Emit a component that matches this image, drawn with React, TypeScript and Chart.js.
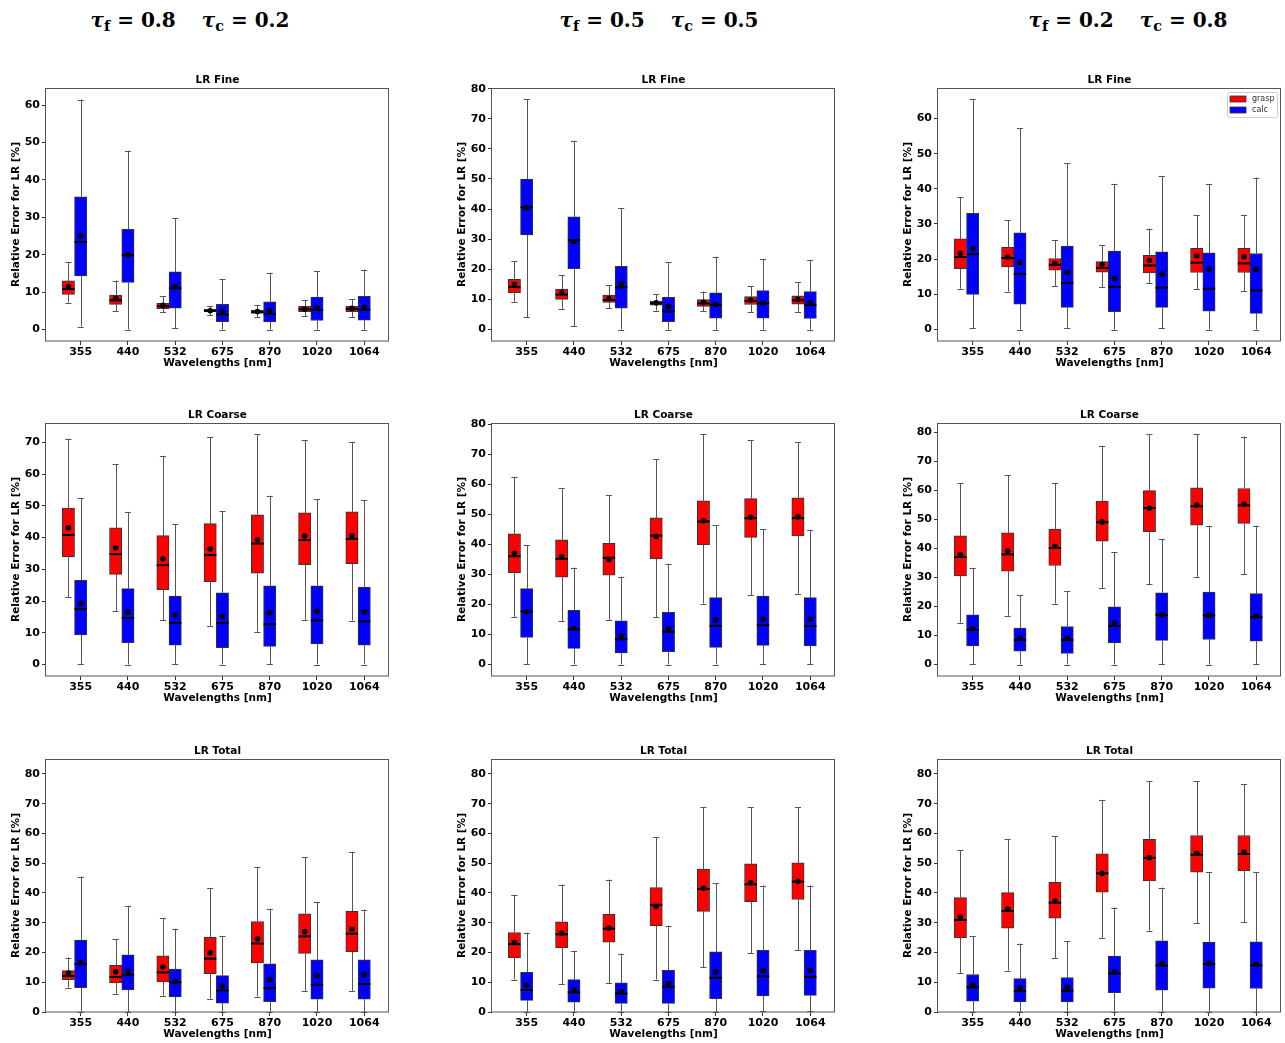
import React, { useEffect, useRef } from 'react';
import { Chart, registerables } from 'chart.js';

Chart.register(...registerables);
Chart.defaults.font.family = "'DejaVu Sans', sans-serif";
Chart.defaults.color = '#000';

// ---------- data ----------
const WAVELENGTHS = ['355', '440', '532', '675', '870', '1020', '1064'];
const SERIES_NAMES = ['grasp', 'calc'];
const SERIES_COLORS = ['#ff0000', '#0000ff'];
const ROW_TITLES = ['LR Fine', 'LR Coarse', 'LR Total'];
const TAU_F = ['0.8', '0.5', '0.2'];
const TAU_C = ['0.2', '0.5', '0.8'];
const Y_LABEL = 'Relative Error for LR [%]';
const X_LABEL = 'Wavelengths [nm]';
const TOTAL_Y_RANGE = [0, 85];

// each row: [lower whisker, q1, median, q3, upper whisker, mean], one row per wavelength
const FINE_A_GRASP = [
  [7.2, 9.4, 10.8, 13.0, 18.1, 11.5], [4.9, 6.7, 7.8, 9.2, 13.1, 8.3], [4.6, 5.6, 6.2, 7.0, 8.9, 6.5],
  [3.8, 4.7, 5.0, 5.4, 6.3, 5.0], [3.3, 4.3, 4.7, 5.2, 6.5, 4.8], [3.6, 4.8, 5.4, 6.2, 7.9, 5.5], [3.3, 4.8, 5.5, 6.2, 8.1, 5.7],
];
const FINE_A_CALC = [
  [0.8, 14.3, 23.4, 35.5, 61.5, 25.0], [0.0, 12.6, 19.9, 26.8, 47.8, 20.0], [0.3, 5.7, 11.0, 15.4, 29.8, 11.4],
  [0.0, 2.1, 4.0, 6.7, 13.4, 4.8], [0.0, 2.0, 4.2, 7.4, 15.2, 4.9], [0.0, 2.4, 5.2, 8.7, 15.6, 5.8], [0.0, 2.5, 5.3, 8.9, 16.0, 6.0],
];
const FINE_B_GRASP = [
  [9.2, 12.2, 14.1, 16.7, 22.6, 15.0], [6.7, 10.0, 11.6, 13.4, 18.1, 12.2], [7.0, 9.0, 9.8, 11.4, 14.7, 10.3],
  [6.3, 8.1, 8.7, 9.4, 11.7, 8.9], [6.0, 7.7, 8.7, 9.9, 12.6, 9.0], [5.7, 8.3, 9.5, 10.9, 14.5, 9.8], [5.7, 8.4, 9.7, 11.2, 15.7, 10.0],
];
const FINE_B_CALC = [
  [4.0, 31.4, 40.6, 50.0, 76.4, 40.4], [1.0, 20.2, 29.7, 37.4, 62.7, 29.2], [0.0, 7.1, 14.0, 21.0, 40.3, 15.3],
  [0.0, 2.6, 6.0, 10.7, 22.3, 7.6], [0.0, 3.8, 8.2, 12.2, 24.2, 8.3], [0.0, 3.8, 8.7, 12.9, 23.4, 8.8], [0.0, 3.7, 8.1, 12.6, 23.1, 8.9],
];
const FINE_C_GRASP = [
  [11.6, 17.3, 20.6, 25.8, 37.7, 21.7], [10.8, 17.8, 20.3, 23.4, 31.1, 20.6], [12.3, 16.9, 18.4, 20.2, 25.4, 18.8],
  [12.0, 16.3, 17.5, 19.3, 24.0, 18.5], [13.1, 16.1, 18.2, 21.1, 28.7, 19.6], [11.5, 16.2, 19.0, 23.1, 32.6, 20.9], [11.0, 16.2, 18.8, 23.1, 32.6, 20.7],
];
const FINE_C_CALC = [
  [0.3, 10.0, 21.4, 33.0, 65.4, 23.0], [0.0, 7.2, 15.8, 27.5, 57.3, 19.0], [0.3, 6.3, 13.2, 23.7, 47.3, 16.2],
  [0.0, 5.1, 12.1, 22.3, 41.4, 14.5], [0.3, 6.3, 11.9, 22.1, 43.6, 15.8], [0.0, 5.2, 11.6, 21.8, 41.4, 17.2], [0.0, 4.6, 11.1, 21.6, 43.2, 17.1],
];
const COARSE_A_GRASP = [
  [21.2, 33.9, 40.8, 49.3, 71.2, 43.1], [16.9, 28.4, 34.8, 43.1, 63.1, 36.8], [14.0, 23.6, 31.3, 40.6, 65.8, 33.3],
  [12.2, 26.1, 34.5, 44.4, 71.7, 36.4], [10.3, 28.8, 38.1, 47.2, 72.5, 39.3], [14.1, 31.5, 39.2, 47.8, 70.7, 40.5], [13.8, 31.8, 39.6, 48.1, 70.2, 40.6],
];
const COARSE_A_CALC = [
  [0.2, 9.3, 17.5, 26.5, 52.5, 19.2], [0.0, 6.9, 14.7, 23.9, 48.1, 16.5], [0.2, 6.1, 13.1, 21.6, 44.2, 15.7],
  [0.0, 5.3, 13.1, 22.6, 48.4, 15.1], [0.2, 5.7, 12.7, 24.8, 53.2, 16.3], [0.0, 6.5, 13.9, 24.8, 52.2, 16.8], [0.0, 6.1, 13.6, 24.4, 51.7, 16.7],
];
const COARSE_B_GRASP = [
  [15.8, 30.6, 36.1, 43.6, 62.6, 37.1], [14.4, 29.1, 35.2, 41.6, 58.9, 35.9], [14.7, 29.8, 35.6, 40.4, 56.4, 35.0],
  [15.8, 35.2, 43.0, 48.9, 68.4, 42.7], [20.3, 40.0, 47.7, 54.6, 76.7, 47.9], [23.1, 42.4, 48.8, 55.3, 74.8, 49.1], [23.6, 42.9, 48.8, 55.6, 74.1, 49.3],
];
const COARSE_B_CALC = [
  [0.2, 9.0, 17.7, 25.3, 39.8, 17.6], [0.0, 5.4, 11.7, 18.1, 32.3, 12.1], [0.0, 3.9, 8.4, 14.6, 29.3, 9.6],
  [0.0, 4.3, 10.9, 17.4, 33.6, 11.9], [0.0, 5.7, 12.9, 22.3, 46.4, 14.9], [0.2, 6.4, 13.1, 22.8, 45.2, 15.1], [0.2, 6.2, 12.8, 22.3, 44.8, 15.1],
];
const COARSE_C_GRASP = [
  [14.4, 30.5, 37.0, 44.3, 62.4, 37.9], [16.8, 32.1, 37.9, 45.3, 65.1, 39.1], [21.0, 34.1, 40.1, 46.6, 62.6, 40.7],
  [26.3, 42.5, 49.0, 56.3, 75.3, 49.1], [27.7, 45.7, 53.9, 59.9, 79.2, 53.8], [30.2, 48.0, 54.5, 60.8, 79.2, 54.9], [31.0, 48.6, 54.8, 60.6, 78.5, 55.2],
];
const COARSE_C_CALC = [
  [0.2, 6.4, 12.0, 17.1, 33.3, 12.4], [0.0, 4.6, 8.4, 12.5, 23.9, 9.0], [0.0, 3.8, 8.4, 13.1, 25.3, 9.0],
  [0.0, 7.4, 13.3, 19.9, 38.6, 14.3], [0.2, 8.3, 17.1, 24.7, 43.2, 17.1], [0.0, 8.6, 16.9, 24.9, 47.8, 17.0], [0.2, 8.0, 16.3, 24.4, 47.8, 16.7],
];
const TOTAL_A_GRASP = [
  [8.2, 10.9, 12.1, 13.9, 18.3, 13.1], [6.2, 9.8, 11.8, 15.7, 24.6, 13.5], [5.5, 10.1, 13.3, 18.9, 31.5, 15.1],
  [4.4, 12.9, 17.9, 25.1, 41.7, 19.9], [5.2, 16.5, 23.0, 30.4, 48.8, 24.6], [7.0, 19.7, 25.4, 33.0, 52.0, 27.0], [6.9, 20.3, 26.3, 33.8, 53.8, 27.8],
];
const TOTAL_A_CALC = [
  [0.0, 8.2, 16.1, 24.2, 45.5, 16.6], [0.0, 7.4, 12.5, 19.2, 35.7, 13.6], [0.0, 5.1, 10.0, 14.4, 28.0, 10.2],
  [0.0, 3.0, 7.2, 12.2, 25.6, 8.7], [0.0, 3.5, 8.0, 16.2, 34.7, 10.9], [0.0, 4.3, 9.2, 17.5, 37.0, 12.2], [0.0, 4.3, 9.4, 17.5, 34.4, 12.5],
];
const TOTAL_B_GRASP = [
  [10.9, 18.2, 22.8, 26.7, 39.2, 23.4], [9.4, 21.5, 26.1, 30.3, 42.8, 26.5], [9.6, 23.5, 28.0, 32.8, 44.5, 28.2],
  [10.9, 29.0, 36.0, 41.8, 58.7, 35.5], [15.1, 33.8, 41.3, 48.0, 68.8, 41.6], [19.7, 37.1, 42.9, 49.8, 68.8, 43.4], [20.7, 37.8, 43.8, 50.1, 68.8, 43.9],
];
const TOTAL_B_CALC = [
  [0.0, 3.9, 7.4, 13.3, 26.7, 9.0], [0.0, 3.3, 6.6, 10.9, 20.6, 7.5], [0.0, 2.9, 6.2, 9.8, 19.6, 6.9],
  [0.0, 2.9, 8.5, 14.0, 29.0, 9.6], [0.0, 4.5, 11.5, 20.2, 43.3, 13.5], [0.2, 5.4, 12.0, 20.7, 42.5, 14.0], [0.2, 5.6, 11.8, 20.7, 42.5, 14.0],
];
const TOTAL_C_GRASP = [
  [13.0, 24.9, 30.9, 38.4, 54.3, 31.9], [13.9, 28.2, 33.9, 40.1, 58.1, 34.6], [18.2, 31.5, 36.7, 43.6, 59.0, 37.3],
  [24.9, 40.3, 46.6, 53.1, 71.3, 46.6], [27.3, 44.0, 51.8, 58.0, 77.6, 51.8], [29.9, 47.0, 52.8, 59.3, 77.6, 53.3], [30.3, 47.5, 53.1, 59.3, 76.6, 53.7],
];
const TOTAL_C_CALC = [
  [0.0, 3.6, 8.3, 12.6, 25.6, 9.2], [0.0, 3.4, 7.0, 11.2, 23.0, 8.1], [0.0, 3.4, 7.1, 11.6, 23.7, 8.3],
  [0.0, 6.5, 12.9, 18.8, 35.1, 13.5], [0.0, 7.3, 15.6, 23.9, 41.8, 16.3], [0.0, 8.0, 16.1, 23.5, 47.0, 16.4], [0.0, 7.9, 15.7, 23.6, 47.0, 16.2],
];

const PANEL_SERIES = [
  [[FINE_A_GRASP, FINE_A_CALC], [FINE_B_GRASP, FINE_B_CALC], [FINE_C_GRASP, FINE_C_CALC]],
  [[COARSE_A_GRASP, COARSE_A_CALC], [COARSE_B_GRASP, COARSE_B_CALC], [COARSE_C_GRASP, COARSE_C_CALC]],
  [[TOTAL_A_GRASP, TOTAL_A_CALC], [TOTAL_B_GRASP, TOTAL_B_CALC], [TOTAL_C_GRASP, TOTAL_C_CALC]],
];

// ---------- layout / style ----------
const PLOT_LEFTS = [46, 492, 938];
const PLOT_TOPS = [88, 423, 759];
const PLOT_W = 346;
const PLOT_H = 253;
const AXIS_W = 46;
const TITLE_H = 22;
const XAXIS_H = 30;
const RIGHT_PAD = 1;
const HEADER_CENTERS = [190, 659, 1128];
const GROUP_OFFSETS = [-0.26, 0];
const X_MIN = 0.266;
const X_MAX = 7.524;
const EDGE = '#333';
const WHISKER = '#555';
const FRAME = '#555';

const boxPlugin = {
  id: 'boxplot',
  beforeDatasetsDraw(chart: any) {
    const ctx = chart.ctx;
    const ys = chart.scales.y;
    chart.data.datasets.forEach((ds: any, di: number) => {
      if (!ds.boxStats) return;
      const meta = chart.getDatasetMeta(di);
      ctx.save();
      ctx.strokeStyle = WHISKER;
      ctx.lineWidth = 1;
      meta.data.forEach((el: any, i: number) => {
        const { x, width } = el.getProps(['x', 'width'], true);
        const [lo, q1, , q3, hi] = ds.boxStats[i];
        const cx = Math.round(x) + 0.5;
        const yLo = ys.getPixelForValue(lo);
        const yQ1 = ys.getPixelForValue(q1);
        const yQ3 = ys.getPixelForValue(q3);
        const yHi = ys.getPixelForValue(hi);
        ctx.beginPath();
        ctx.moveTo(cx, yLo); ctx.lineTo(cx, yQ1);
        ctx.moveTo(cx, yQ3); ctx.lineTo(cx, yHi);
        ctx.moveTo(x - width / 4, Math.round(yLo) + 0.5); ctx.lineTo(x + width / 4, Math.round(yLo) + 0.5);
        ctx.moveTo(x - width / 4, Math.round(yHi) + 0.5); ctx.lineTo(x + width / 4, Math.round(yHi) + 0.5);
        ctx.stroke();
      });
      ctx.restore();
    });
  },
  afterDatasetDraw(chart: any, args: any) {
    const ds = chart.data.datasets[args.index];
    if (!ds.boxStats) return;
    const ctx = chart.ctx;
    const ys = chart.scales.y;
    ctx.save();
    ctx.strokeStyle = '#000';
    ctx.lineWidth = 2;
    args.meta.data.forEach((el: any, i: number) => {
      const { x, width } = el.getProps(['x', 'width'], true);
      const ym = ys.getPixelForValue(ds.boxStats[i][2]);
      ctx.beginPath();
      ctx.moveTo(x - width / 2, ym);
      ctx.lineTo(x + width / 2, ym);
      ctx.stroke();
    });
    ctx.restore();
  },
  afterDraw(chart: any, _args: any, opts: any) {
    const ctx = chart.ctx;
    const a = chart.chartArea;
    ctx.save();
    ctx.strokeStyle = FRAME;
    ctx.lineWidth = 1;
    ctx.strokeRect(Math.round(a.left) - 0.5, Math.round(a.top) + 0.5, Math.round(a.right - a.left), Math.round(a.bottom - a.top) - 0.5);
    if (opts && opts.legend) {
      const items = chart.data.datasets.filter((d: any) => d.boxStats);
      const w = 50, h = 25;
      const lx = a.right - 4 - w, ly = a.top + 4;
      ctx.fillStyle = 'rgba(255,255,255,0.8)';
      ctx.strokeStyle = '#ccc';
      ctx.beginPath();
      (ctx as any).roundRect(lx + 0.5, ly + 0.5, w, h, 2);
      ctx.fill();
      ctx.stroke();
      ctx.font = "8px 'DejaVu Sans', sans-serif";
      ctx.textBaseline = 'middle';
      items.forEach((d: any, i: number) => {
        const cy = ly + 7 + i * 11;
        ctx.fillStyle = d.backgroundColor;
        ctx.fillRect(lx + 3, cy - 3, 16, 6);
        ctx.strokeStyle = EDGE;
        ctx.lineWidth = 0.8;
        ctx.strokeRect(lx + 3, cy - 3, 16, 6);
        ctx.fillStyle = '#333';
        ctx.fillText(d.label, lx + 25, cy);
      });
    }
    ctx.restore();
  },
};

function Panel({ row, col }: { row: number; col: number }) {
  const ref = useRef<HTMLCanvasElement>(null);
  useEffect(() => {
    const canvas = ref.current;
    if (!canvas) return;
    const series = PANEL_SERIES[row][col];
    let yMin: number, yMax: number;
    if (row === 2) {
      yMin = TOTAL_Y_RANGE[0];
      yMax = TOTAL_Y_RANGE[1];
    } else {
      const lo = Math.min(...series.flat().map((r: number[]) => r[0]));
      const hi = Math.max(...series.flat().map((r: number[]) => r[4]));
      const pad = 0.05 * (hi - lo);
      yMin = lo - pad;
      yMax = hi + pad;
    }
    const boxSets = series.map((stats, si) => ({
      type: 'bar',
      label: SERIES_NAMES[si],
      data: stats.map((r, i) => ({ x: i + 1 + GROUP_OFFSETS[si], y: [r[1], r[3]] })),
      backgroundColor: SERIES_COLORS[si],
      borderColor: EDGE,
      borderWidth: 1,
      borderSkipped: false,
      grouped: false,
      barPercentage: 1,
      categoryPercentage: 1,
      order: 2,
      boxStats: stats,
    }));
    const meanSets = series.map((stats, si) => ({
      type: 'scatter',
      label: SERIES_NAMES[si] + ' mean',
      data: stats.map((r, i) => ({ x: i + 1 + GROUP_OFFSETS[si], y: r[5] })),
      pointRadius: 2.8,
      pointBackgroundColor: '#000',
      pointBorderWidth: 0,
      showLine: false,
      order: 1,
    }));
    const chart = new Chart(canvas, {
      type: 'bar',
      data: { datasets: [...boxSets, ...meanSets] as any },
      options: {
        animation: false,
        responsive: false,
        events: [],
        layout: { padding: { left: 0, top: 0, bottom: 0, right: RIGHT_PAD } },
        plugins: {
          legend: { display: false },
          tooltip: { enabled: false },
          title: {
            display: true,
            fullSize: false,
            text: ROW_TITLES[row],
            font: { size: 10.5, weight: 'bold', lineHeight: 1 },
            color: '#000',
            padding: { top: 9, bottom: 2.5 },
          },
          boxplot: { legend: row === 0 && col === 2 },
        } as any,
        scales: {
          x: {
            type: 'linear',
            offset: false,
            min: X_MIN,
            max: X_MAX,
            afterFit: (s: any) => { s.height = XAXIS_H; },
            border: { display: false },
            grid: { display: true, offset: false, drawOnChartArea: false, drawTicks: true, tickLength: 4, color: '#000', lineWidth: 0.8 },
            ticks: {
              stepSize: 1,
              includeBounds: false,
              autoSkip: false,
              maxRotation: 0,
              padding: 1,
              color: '#000',
              font: { size: 11, weight: 'bold' },
              callback: (v: any) => (Number.isInteger(v) ? WAVELENGTHS[v - 1] ?? '' : ''),
            },
            title: {
              display: true,
              text: X_LABEL,
              color: '#000',
              font: { size: 10.5, weight: 'bold' },
              padding: { top: 0, bottom: 1 },
            },
          },
          y: {
            type: 'linear',
            min: yMin,
            max: yMax,
            afterFit: (s: any) => { s.width = AXIS_W; },
            border: { display: false },
            grid: { display: true, drawOnChartArea: false, drawTicks: true, tickLength: 4, color: '#000', lineWidth: 0.8 },
            ticks: {
              stepSize: 10,
              includeBounds: false,
              padding: 2,
              color: '#000',
              font: { size: 11, weight: 'bold' },
            },
            title: {
              display: true,
              text: Y_LABEL,
              color: '#000',
              font: { size: 10.5, weight: 'bold' },
              padding: { top: 9.7, bottom: 0 },
            },
          },
        },
      } as any,
      plugins: [boxPlugin as any],
    });
    return () => chart.destroy();
  }, [row, col]);
  const w = AXIS_W + PLOT_W + RIGHT_PAD;
  const h = TITLE_H + PLOT_H + XAXIS_H;
  return (
    <canvas
      ref={ref}
      width={w}
      height={h}
      style={{ position: 'absolute', left: PLOT_LEFTS[col] - AXIS_W, top: PLOT_TOPS[row] - TITLE_H, width: w, height: h }}
    />
  );
}

function Header({ col }: { col: number }) {
  const sub = { fontSize: '0.72em', position: 'relative' as const, top: '0.28em' };
  return (
    <div
      style={{
        position: 'absolute',
        left: HEADER_CENTERS[col] - 160,
        top: 7,
        width: 320,
        textAlign: 'center',
        fontFamily: "'DejaVu Serif', serif",
        fontWeight: 'bold',
        fontSize: 20,
        lineHeight: '26px',
        whiteSpace: 'nowrap',
        color: '#000',
      }}
    >
      <span style={{ fontStyle: 'italic' }}>τ</span>
      <span style={sub}>f</span>
      <span> = {TAU_F[col]}</span>
      <span style={{ display: 'inline-block', width: 26 }} />
      <span style={{ fontStyle: 'italic' }}>τ</span>
      <span style={sub}>c</span>
      <span> = {TAU_C[col]}</span>
    </div>
  );
}

export default function App() {
  return (
    <div style={{ position: 'fixed', left: 0, top: 0, width: 1285, height: 1043, background: '#fff', overflow: 'hidden' }}>
      {[0, 1, 2].map((c) => <Header key={'h' + c} col={c} />)}
      {[0, 1, 2].map((r) => [0, 1, 2].map((c) => <Panel key={r + '-' + c} row={r} col={c} />))}
    </div>
  );
}
